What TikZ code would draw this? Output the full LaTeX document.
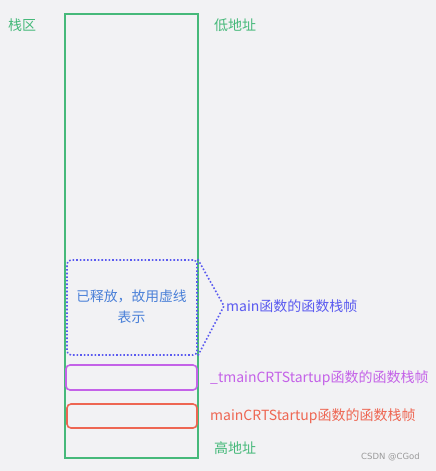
\documentclass[tikz,border=0pt]{standalone}
\usepackage{fontspec}
\setmainfont{Noto Sans CJK SC}
\newfontfamily\cjk{Noto Sans CJK SC}
\definecolor{bg}{HTML}{F2F2F4}
\definecolor{gr}{HTML}{46B97A}
\definecolor{bl}{HTML}{5A5AF0}
\definecolor{bltxt}{HTML}{4A80D8}
\definecolor{pu}{HTML}{C462E8}
\definecolor{rd}{HTML}{EE6652}
\definecolor{gy}{HTML}{9A9A9A}
\begin{document}
\begin{tikzpicture}[x=1pt,y=-1pt,
  lbl/.style={font=\cjk\fontsize{14}{16}\selectfont, anchor=west, inner sep=0pt},
  frame/.style={rounded corners=4pt, line width=1.6pt}]
\useasboundingbox[fill=bg] (0,0) rectangle (436,471);
\draw[gr, line width=1.6pt] (65,14) rectangle (198,458);
\node[lbl, text=gr] (zq) at (8,25) {栈区};
\node[lbl, text=gr] (low) at (214,25) {低地址};
\node[lbl, text=gr] (high) at (214,448) {高地址};
% main frame (dotted)
\node[draw=bl, dotted, line width=1.6pt, rounded corners=4pt, minimum width=130pt, minimum height=95pt, inner sep=0pt] (mf) at (132,307.5) {};
\node[font=\cjk\fontsize{13.8}{21}\selectfont, text=bltxt, align=center] (mt) at (131.5,307) {已释放，故用虚线\\表示};
\coordinate (tip) at (224,306);
\draw[bl, dotted, line width=1.6pt] (mf.north east) -- (tip) -- (mf.south east);
\node[lbl, text=bl] (ml) at (226,306) {main函数的函数栈帧};
% tmainCRTStartup frame
\node[draw=pu, frame, minimum width=131pt, minimum height=25pt, inner sep=0pt] (tf) at (131.5,377.5) {};
\node[lbl, text=pu] (tl) at (210,378) {\_tmainCRTStartup函数的函数栈帧};
% mainCRTStartup frame
\node[draw=rd, frame, minimum width=130pt, minimum height=24pt, inner sep=0pt] (rf) at (132,416) {};
\node[lbl, text=rd] (rl) at (210,416) {mainCRTStartup函数的函数栈帧};
\node[font=\fontspec{DejaVu Sans}\fontsize{8.5}{10}\selectfont, text=gy, anchor=west, inner sep=0pt] (wm) at (361,457) {CSDN @CGod};
\end{tikzpicture}
\end{document}
